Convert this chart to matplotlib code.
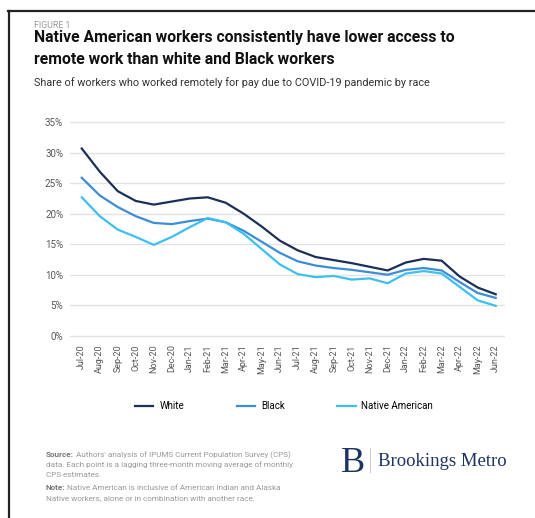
import matplotlib
matplotlib.use('Agg')
import matplotlib.pyplot as plt
from matplotlib.lines import Line2D

months = ['Jul-20', 'Aug-20', 'Sep-20', 'Oct-20', 'Nov-20', 'Dec-20',
          'Jan-21', 'Feb-21', 'Mar-21', 'Apr-21', 'May-21', 'Jun-21',
          'Jul-21', 'Aug-21', 'Sep-21', 'Oct-21', 'Nov-21', 'Dec-21',
          'Jan-22', 'Feb-22', 'Mar-22', 'Apr-22', 'May-22', 'Jun-22']
white = [30.7, 26.9, 23.7, 22.1, 21.5, 22.0, 22.5, 22.7, 21.8, 20.0, 17.9, 15.6,
         14.0, 12.9, 12.4, 11.9, 11.3, 10.7, 12.0, 12.6, 12.3, 9.7, 7.9, 6.8]
black = [25.9, 23.0, 21.1, 19.6, 18.5, 18.3, 18.8, 19.2, 18.6, 17.2, 15.4, 13.6,
         12.2, 11.5, 11.1, 10.8, 10.4, 10.0, 10.8, 11.1, 10.7, 8.8, 7.0, 6.2]
native = [22.7, 19.6, 17.4, 16.2, 14.9, 16.2, 17.8, 19.3, 18.6, 16.7, 14.2, 11.7,
          10.1, 9.6, 9.8, 9.2, 9.4, 8.6, 10.2, 10.6, 10.2, 8.0, 5.8, 4.9]
series = ['White', 'Black', 'Native American']
colors = ['#1b2f57', '#3d8dd6', '#3cc0ef']

plt.rcParams['font.family'] = ['Roboto', 'DejaVu Sans']

fig = plt.figure(figsize=(5.35, 5.18), dpi=100)
ax = fig.add_axes([0.131, (518 - 338.75) / 518, 0.813, 219.5 / 518])

x = list(range(len(months)))
for vals, name, c in zip([white, black, native], series, colors):
	ax.plot(x, vals, color=c, linewidth=1.6, label=name)

ax.set_xlim(-0.65, 23.52)
ax.set_ylim(-0.5, 35.5)
ax.set_yticks(range(0, 36, 5))
ax.set_yticklabels([str(v) + '%' for v in range(0, 36, 5)])
ax.set_xticks(x)
ax.set_xticklabels(months, rotation=90)
ax.tick_params(axis='both', length=0, labelcolor='#555555')
ax.tick_params(axis='x', pad=4, labelsize=6.5)
ax.tick_params(axis='y', pad=5, labelsize=7)
ax.grid(axis='y', color='#e3e3e3', linewidth=1)
ax.set_axisbelow(True)
for s in ax.spines.values():
	s.set_visible(False)

fig.legend(loc='center', bbox_to_anchor=(0.531, 0.216), ncol=3, frameon=False,
           fontsize=7, handlelength=1.9, columnspacing=5.4, handletextpad=0.6)

fig.text(34 / 535, 1 - 28 / 518, 'FIGURE 1', fontsize=6.3, color='#999999', va='baseline')
fig.text(34 / 535, 1 - 42 / 518, 'Native American workers consistently have lower access to',
         fontsize=11.3, fontweight='bold', color='#111111', va='baseline')
fig.text(34 / 535, 1 - 64 / 518, 'remote work than white and Black workers',
         fontsize=11.3, fontweight='bold', color='#111111', va='baseline')
fig.text(34 / 535, 1 - 86 / 518,
         'Share of workers who worked remotely for pay due to COVID-19 pandemic by race',
         fontsize=7.8, color='#333333', va='baseline')

foot = [('Source:', 'Authors\' analysis of IPUMS Current Population Survey (CPS)'),
        ('', 'data. Each point is a lagging three-month moving average of monthly'),
        ('', 'CPS estimates.')]
note = [('Note:', 'Native American is inclusive of American Indian and Alaska'),
        ('', 'Native workers, alone or in combination with another race.')]
ys = [457, 467, 477, 490, 500]
fig.canvas.draw()
for (b, t), yy in zip(foot + note, ys):
	x0 = 46 / 535
	if b:
		line = fig.text(x0, 1 - yy / 518, b, fontsize=5.85, fontweight='bold',
		                color='#777777', va='baseline')
		bb = line.get_window_extent(renderer=fig.canvas.get_renderer())
		x0 = (bb.x1 + 2) / fig.bbox.width
	fig.text(x0, 1 - yy / 518, t, fontsize=5.85, color='#999999', va='baseline')

fig.text(341 / 535, 1 - 472 / 518, 'B', fontsize=26, family='Liberation Serif',
         color='#1d3461', va='baseline')
fig.add_artist(Line2D([370 / 535, 370 / 535], [1 - 448 / 518, 1 - 472 / 518],
                      color='#cccccc', linewidth=0.8))
fig.text(378 / 535, 1 - 466 / 518, 'Brookings Metro', fontsize=13.5,
         family='Liberation Serif', color='#1d3461', va='baseline')

fig.add_artist(Line2D([8 / 535, 1], [1 - 11 / 518, 1 - 11 / 518], color='#222222', linewidth=1.6))
fig.add_artist(Line2D([9 / 535, 9 / 535], [0, 1 - 11 / 518], color='#222222', linewidth=1.6))

plt.savefig('out.png', dpi=100)
